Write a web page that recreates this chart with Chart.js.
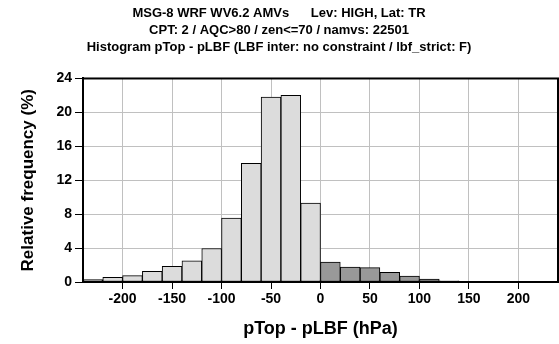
<!DOCTYPE html>
<html>
<head>
<meta charset="utf-8">
<script src="https://cdn.jsdelivr.net/npm/chart.js@4/dist/chart.umd.min.js"></script>
<style>
  html, body { margin: 0; padding: 0; background: #fff; }
  #wrap { width: 559px; height: 344px; }
</style>
</head>
<body>
<div id="wrap"><canvas id="chart" width="559" height="344"></canvas></div>
<script>
// bin centres (hPa), 20 hPa wide
const binCenters = [-230, -210, -190, -170, -150, -130, -110, -90, -70, -50, -30, -10,
                    10, 30, 50, 70, 90, 110, 130, 150, 170, 190, 210, 230];
// relative frequency (%)
const freq = [0.3, 0.55, 0.75, 1.25, 1.85, 2.5, 3.95, 7.55, 14.0, 21.8, 22.0, 9.3,
              2.35, 1.75, 1.7, 1.15, 0.7, 0.35, 0.15, 0.08, 0.05, 0.04, 0.03, 0.02];
const xTicks = [-200, -150, -100, -50, 0, 50, 100, 150, 200];
const yTicks = [0, 4, 8, 12, 16, 20, 24];

const titleLines = [
  'MSG-8 WRF WV6.2 AMVs      Lev: HIGH, Lat: TR',
  'CPT: 2 / AQC>80 / zen<=70 / namvs: 22501',
  'Histogram pTop - pLBF (LBF inter: no constraint / lbf_strict: F)'
];

const light = '#dcdcdc';
const dark = '#999999';
const colors = binCenters.map((c, i) => (c > 0 || i === 0) ? dark : light);

// black frame around the plot area
const frame = {
  id: 'frame',
  afterDraw(chart) {
    const a = chart.chartArea;
    const ctx = chart.ctx;
    ctx.save();
    ctx.strokeStyle = '#000';
    ctx.lineWidth = 2;
    ctx.strokeRect(a.left, a.top, a.right - a.left, a.bottom - a.top);
    ctx.restore();
  }
};

const ctx = document.getElementById('chart').getContext('2d');
const chart = new Chart(ctx, {
  type: 'bar',
  data: {
    datasets: [{
      data: binCenters.map((x, i) => ({ x: x, y: freq[i] })),
      backgroundColor: colors,
      borderColor: '#000',
      borderWidth: 1,
      borderSkipped: false,
      barPercentage: 1,
      categoryPercentage: 1
    }]
  },
  plugins: [frame],
  options: {
    responsive: false,
    animation: false,
    layout: { padding: { left: 0, right: 1, top: 0, bottom: 0 } },
    plugins: {
      legend: { display: false },
      tooltip: { enabled: false },
      title: {
        display: true,
        text: titleLines,
        color: '#000',
        font: { family: 'Liberation Sans, Arial, sans-serif', size: 13, weight: 'bold', lineHeight: 1.32 },
        padding: { top: 5, bottom: 22 }
      }
    },
    scales: {
      x: {
        type: 'linear',
        min: -240,
        max: 240,
        offset: false,
        z: 1,
        afterBuildTicks(s) { s.ticks = xTicks.map(v => ({ value: v })); },
        afterFit(s) { s.height = 62; },
        grid: { offset: false, color: '#c0c0c0', lineWidth: 1, tickColor: '#000', tickLength: 7 },
        border: { color: '#000', width: 2 },
        ticks: {
          color: '#000',
          padding: 2,
          font: { family: 'Liberation Sans, Arial, sans-serif', size: 14, weight: 'bold' }
        },
        title: {
          display: true,
          text: 'pTop - pLBF (hPa)',
          color: '#000',
          font: { family: 'Liberation Sans, Arial, sans-serif', size: 18, weight: 'bold' },
          padding: { top: 0, bottom: 4 }
        }
      },
      y: {
        min: 0,
        max: 24,
        z: 1,
        afterBuildTicks(s) { s.ticks = yTicks.map(v => ({ value: v })); },
        afterFit(s) { s.width = 83; },
        grid: { color: '#c0c0c0', lineWidth: 1, tickColor: '#000', tickLength: 8 },
        border: { color: '#000', width: 2 },
        ticks: {
          color: '#000',
          padding: 3,
          font: { family: 'Liberation Sans, Arial, sans-serif', size: 14, weight: 'bold' }
        },
        title: {
          display: true,
          text: 'Relative frequency (%)',
          color: '#000',
          font: { family: 'Liberation Sans, Arial, sans-serif', size: 17, weight: 'bold' },
          padding: { top: 18, bottom: 0 }
        }
      }
    }
  }
});
</script>
</body>
</html>
